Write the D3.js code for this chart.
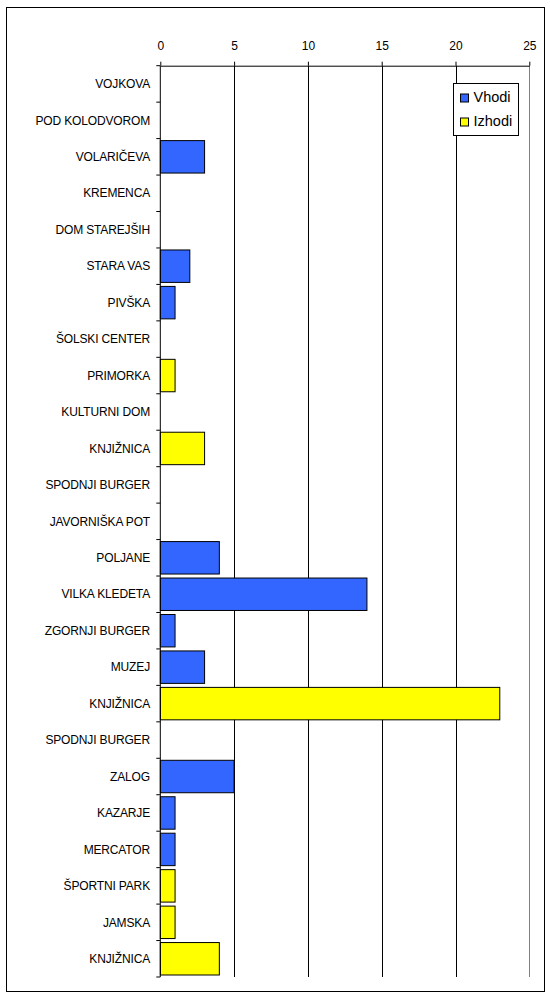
<!DOCTYPE html>
<html>
<head>
<meta charset="utf-8">
<script src="https://cdn.jsdelivr.net/npm/d3@7"></script>
<style>
  html, body { margin: 0; padding: 0; background: #fff; }
  svg { display: block; }
  text { font-family: "Liberation Sans", Arial, sans-serif; fill: #000; }
</style>
</head>
<body>
<svg id="chart" width="550" height="997"></svg>
<script>
const categories = ["VOJKOVA","POD KOLODVOROM","VOLARIČEVA","KREMENCA","DOM STAREJŠIH","STARA VAS","PIVŠKA","ŠOLSKI CENTER","PRIMORKA","KULTURNI DOM","KNJIŽNICA","SPODNJI BURGER","JAVORNIŠKA POT","POLJANE","VILKA KLEDETA","ZGORNJI BURGER","MUZEJ","KNJIŽNICA","SPODNJI BURGER","ZALOG","KAZARJE","MERCATOR","ŠPORTNI PARK","JAMSKA","KNJIŽNICA"];
const vhodi  = [0,0,3,0,0,2,1,0,0,0,0,0,0,4,14,1,3,0,0,5,1,1,0,0,0];
const izhodi = [0,0,0,0,0,0,0,0,1,0,3,0,0,0,0,0,0,23,0,0,0,0,1,1,4];
const seriesNames = ["Vhodi","Izhodi"];
const seriesColors = ["#3366FF","#FFFF00"];
const xTicks = [0,5,10,15,20,25];

(function(){
const svg = d3.select("#chart");
const pLeft = 160.3, pRight = 529.3, pTop = 65.7, pBottom = 977;

// outer frame
svg.append("rect").attr("x",6.5).attr("y",7.5).attr("width",538).attr("height",984)
  .attr("fill","none").attr("stroke","#000").attr("stroke-width",1);

const x = d3.scaleLinear().domain([0,25]).range([pLeft,pRight]);
const y = d3.scaleBand().domain(d3.range(categories.length)).range([pTop,pBottom]).paddingInner(0.11).paddingOuter(0.055);

// gridlines
svg.append("g").selectAll("line").data(xTicks.filter(d=>d>0)).join("line")
  .attr("x1",d=>Math.round(x(d))+0.5).attr("x2",d=>Math.round(x(d))+0.5)
  .attr("y1",pTop).attr("y2",pBottom)
  .attr("stroke",d=>d===25?"#808080":"#000").attr("stroke-width",1);

// bars
const rows = categories.map((c,i)=>({i, v: vhodi[i], z: izhodi[i]}));
const barG = svg.append("g");
rows.forEach(r=>{
  [[r.v,0],[r.z,1]].forEach(([val,s])=>{
    if (val>0) {
      barG.append("rect")
        .attr("x",x(0)).attr("y",y(r.i))
        .attr("width",x(val)-x(0)).attr("height",y.bandwidth())
        .attr("fill",seriesColors[s]).attr("stroke","#000").attr("stroke-width",1);
    }
  });
});

// top axis
const xAxis = d3.axisTop(x).tickValues(xTicks).tickSize(4).tickSizeOuter(0).tickPadding(0);
const gx = svg.append("g").attr("transform",`translate(0,${pTop})`).call(xAxis);
gx.select(".domain").attr("stroke","#000");
gx.selectAll(".tick line").attr("stroke","#000");
gx.selectAll("text").attr("font-size","12px").attr("font-family","Liberation Sans, Arial, sans-serif")
  .attr("fill","#000").attr("dy",null).attr("y",-15.7);

// left axis line + ticks at band boundaries
svg.append("line").attr("x1",pLeft).attr("x2",pLeft).attr("y1",pTop).attr("y2",pBottom).attr("stroke","#000");
const step = (pBottom-pTop)/categories.length;
svg.append("g").selectAll("line").data(d3.range(categories.length+1)).join("line")
  .attr("x1",pLeft-4).attr("x2",pLeft).attr("y1",d=>pTop+d*step).attr("y2",d=>pTop+d*step)
  .attr("stroke","#000");

// category labels
svg.append("g").selectAll("text").data(rows).join("text")
  .attr("x",150).attr("y",d=>pTop+(d.i+0.5)*step)
  .attr("dy","0.35em").attr("text-anchor","end")
  .attr("font-size","12px").attr("letter-spacing","-0.15px")
  .text(d=>categories[d.i]);

// legend
const lg = svg.append("g");
lg.append("rect").attr("x",453.5).attr("y",83.5).attr("width",65).attr("height",52)
  .attr("fill","#fff").attr("stroke","#000").attr("stroke-width",1);
seriesNames.forEach((n,k)=>{
  const base = 101.5 + k*24;
  lg.append("rect").attr("x",460.5).attr("y",base-7.5).attr("width",8).attr("height",8)
    .attr("fill",seriesColors[k]).attr("stroke","#000");
  lg.append("text").attr("x",473.5).attr("y",base).attr("font-size","14.5px").text(n);
});
})();
</script>
</body>
</html>
